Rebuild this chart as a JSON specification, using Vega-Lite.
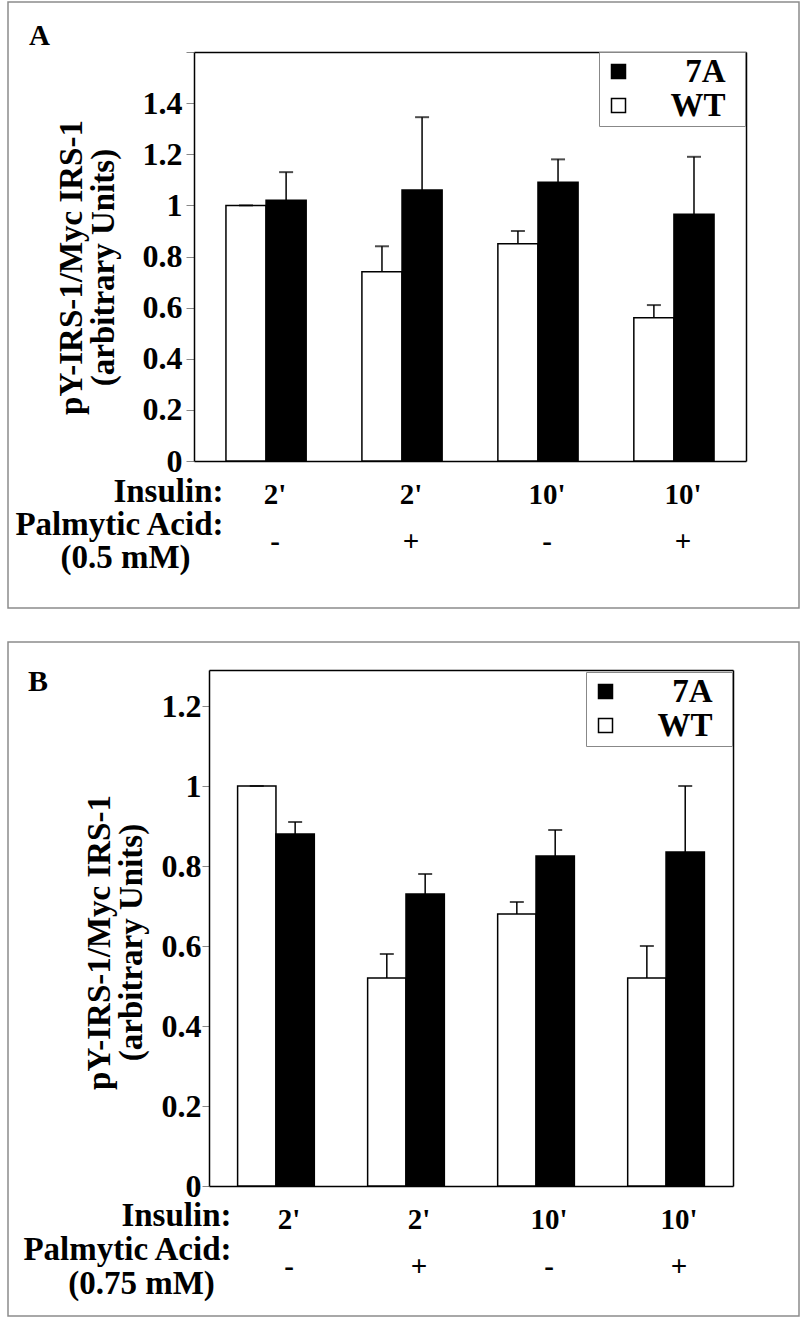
{
  "$schema": "https://vega.github.io/schema/vega-lite/v6.json",
  "background": "white",
  "padding": {"left": 7, "top": 1, "right": 1, "bottom": 0},
  "spacing": 32,
  "resolve": {"scale": {"x": "independent", "y": "independent", "color": "independent", "xOffset": "independent"}, "legend": {"color": "independent"}},
  "vconcat": [
    {
      "width": 791,
      "height": 606,
      "title": {"text": "A", "anchor": "start", "frame": "group", "dx": 21, "dy": 72, "offset": 0, "baseline": "alphabetic", "fontSize": 29},
      "data": {"values": [
        {"grp": "2'|-", "type": "WT", "value": 1.0, "hi": 1.0},
        {"grp": "2'|-", "type": "7A", "value": 1.02, "hi": 1.13},
        {"grp": "2'|+", "type": "WT", "value": 0.74, "hi": 0.84},
        {"grp": "2'|+", "type": "7A", "value": 1.06, "hi": 1.345},
        {"grp": "10'|-", "type": "WT", "value": 0.85, "hi": 0.9},
        {"grp": "10'|-", "type": "7A", "value": 1.09, "hi": 1.18},
        {"grp": "10'|+", "type": "WT", "value": 0.56, "hi": 0.61},
        {"grp": "10'|+", "type": "7A", "value": 0.965, "hi": 1.19}
      ]},
      "layer": [
        {
          "mark": {"type": "bar", "stroke": "black", "strokeWidth": 1.5},
          "encoding": {
            "x": {"field": "grp", "type": "nominal",
              "scale": {"domain": ["2'|-", "2'|+", "10'|-", "10'|+"], "range": [186, 738], "paddingInner": 0.41, "paddingOuter": 0.235},
              "axis": {"orient": "bottom", "offset": -147, "labelExpr": "split(datum.label, '|')", "labelAngle": 0, "ticks": false, "labelPadding": 42, "labelBaseline": "alphabetic", "labelLineHeight": 47, "labelFontSize": 29, "labelOffset": 9, "labelOverlap": false, "labelBound": false, "domainColor": "black", "domainWidth": 1.5,
                "title": ["Insulin:", "Palmytic Acid:"], "titleX": 215, "titleY": 40, "titleAlign": "right", "titleBaseline": "alphabetic", "titleAngle": 0, "titleLineHeight": 33, "titleFontSize": 33}},
            "xOffset": {"field": "type", "type": "nominal", "scale": {"domain": ["WT", "7A"], "paddingInner": 0, "paddingOuter": 0}},
            "y": {"field": "value", "type": "quantitative",
              "scale": {"domain": [0, 1.6], "range": [459, 50], "nice": false, "zero": true},
              "axis": {"orient": "left", "offset": -186, "values": [0, 0.2, 0.4, 0.6, 0.8, 1, 1.2, 1.4, 1.6], "format": ".1~f", "labelExpr": "datum.value > 1.5 ? '' : datum.label", "tickSize": 8, "tickColor": "#888888", "tickWidth": 1, "labelPadding": 4, "labelFontSize": 32, "labelBaseline": "middle", "domainColor": "black", "domainWidth": 1.5,
                "title": ["pY-IRS-1/Myc IRS-1", "(arbitrary Units)"], "titleFontSize": 33, "titleLineHeight": 32, "titleX": -113, "titleY": 265, "titleAngle": -90, "titleAlign": "center", "titleBaseline": "alphabetic"}},
            "color": {"field": "type", "type": "nominal",
              "scale": {"domain": ["7A", "WT"], "range": ["black", "white"]},
              "legend": {"orient": "none", "legendX": 591, "legendY": 50, "title": null, "symbolType": "square", "symbolSize": 196, "symbolStrokeColor": "black", "symbolStrokeWidth": 1.5, "symbolOpacity": 1, "labelFont": "Liberation Serif", "labelFontWeight": "bold", "labelFontSize": 33, "labelColor": "black", "labelAlign": "right", "labelOffset": 107, "labelExpr": "datum.label + '\u00a0\u00a0\u200b'", "labelLimit": 400, "padding": 3, "rowPadding": 0, "strokeColor": "#888888", "fillColor": "white"}}
          }
        },
        {
          "mark": {"type": "rule", "color": "black", "strokeWidth": 1.5},
          "encoding": {
            "x": {"field": "grp", "type": "nominal",
              "axis": {"orient": "top", "offset": -50, "labels": false, "ticks": false, "title": null, "domainColor": "black", "domainWidth": 1.5}},
            "xOffset": {"field": "type", "type": "nominal"},
            "y": {"field": "value", "type": "quantitative",
              "axis": {"orient": "right", "offset": -53, "labels": false, "ticks": false, "title": null, "domainColor": "black", "domainWidth": 1.5}},
            "y2": {"field": "hi"}
          }
        },
        {
          "mark": {"type": "tick", "color": "black", "size": 14, "thickness": 2, "orient": "horizontal"},
          "encoding": {
            "x": {"field": "grp", "type": "nominal",
              "axis": {"orient": "bottom", "offset": -147, "labels": false, "ticks": false, "domain": false, "title": "(0.5 mM)", "titleX": 117, "titleY": 106, "titleAlign": "center", "titleBaseline": "alphabetic", "titleAngle": 0, "titleFontSize": 33}},
            "xOffset": {"field": "type", "type": "nominal"},
            "y": {"field": "hi", "type": "quantitative", "axis": null}
          }
        }
      ],
      "resolve": {"axis": {"x": "independent", "y": "independent"}}
    },
    {
      "width": 791,
      "height": 674,
      "title": {"text": "B", "anchor": "start", "frame": "group", "dx": 20, "dy": 79, "offset": 0, "baseline": "alphabetic", "fontSize": 30},
      "data": {"values": [
        {"grp": "2'|-", "type": "WT", "value": 1.0, "hi": 1.0},
        {"grp": "2'|-", "type": "7A", "value": 0.88, "hi": 0.91},
        {"grp": "2'|+", "type": "WT", "value": 0.52, "hi": 0.58},
        {"grp": "2'|+", "type": "7A", "value": 0.73, "hi": 0.78},
        {"grp": "10'|-", "type": "WT", "value": 0.68, "hi": 0.71},
        {"grp": "10'|-", "type": "7A", "value": 0.825, "hi": 0.89},
        {"grp": "10'|+", "type": "WT", "value": 0.52, "hi": 0.6},
        {"grp": "10'|+", "type": "7A", "value": 0.835, "hi": 1.0}
      ]},
      "layer": [
        {
          "mark": {"type": "bar", "stroke": "black", "strokeWidth": 1.5},
          "encoding": {
            "x": {"field": "grp", "type": "nominal",
              "scale": {"domain": ["2'|-", "2'|+", "10'|-", "10'|+"], "range": [201, 725], "paddingInner": 0.41, "paddingOuter": 0.22},
              "axis": {"orient": "bottom", "offset": -130, "labelExpr": "split(datum.label, '|')", "labelAngle": 0, "ticks": false, "labelPadding": 42, "labelBaseline": "alphabetic", "labelLineHeight": 47, "labelFontSize": 29, "labelOffset": 13, "labelOverlap": false, "labelBound": false, "domainColor": "black", "domainWidth": 1.5,
                "title": ["Insulin:", "Palmytic Acid:"], "titleX": 223, "titleY": 39, "titleAlign": "right", "titleBaseline": "alphabetic", "titleAngle": 0, "titleLineHeight": 34, "titleFontSize": 33}},
            "xOffset": {"field": "type", "type": "nominal", "scale": {"domain": ["WT", "7A"], "paddingInner": 0, "paddingOuter": 0}},
            "y": {"field": "value", "type": "quantitative",
              "scale": {"domain": [0, 1.29], "range": [544, 28], "nice": false, "zero": true},
              "axis": {"orient": "left", "offset": -201, "values": [0, 0.2, 0.4, 0.6, 0.8, 1, 1.2], "format": ".1~f", "tickSize": 7, "tickColor": "#888888", "tickWidth": 1, "labelPadding": 1, "labelFontSize": 32, "labelBaseline": "middle", "domainColor": "black", "domainWidth": 1.5,
                "title": ["pY-IRS-1/Myc IRS-1", "(arbitrary Units)"], "titleFontSize": 33, "titleLineHeight": 32, "titleX": -100, "titleY": 300, "titleAngle": -90, "titleAlign": "center", "titleBaseline": "alphabetic"}},
            "color": {"field": "type", "type": "nominal",
              "scale": {"domain": ["7A", "WT"], "range": ["black", "white"]},
              "legend": {"orient": "none", "legendX": 578, "legendY": 30, "title": null, "symbolType": "square", "symbolSize": 196, "symbolStrokeColor": "black", "symbolStrokeWidth": 1.5, "symbolOpacity": 1, "labelFont": "Liberation Serif", "labelFontWeight": "bold", "labelFontSize": 33, "labelColor": "black", "labelAlign": "right", "labelOffset": 107, "labelExpr": "datum.label + '\u00a0\u00a0\u200b'", "labelLimit": 400, "padding": 3, "rowPadding": 0, "strokeColor": "#888888", "fillColor": "white"}}
          }
        },
        {
          "mark": {"type": "rule", "color": "black", "strokeWidth": 1.5},
          "encoding": {
            "x": {"field": "grp", "type": "nominal",
              "axis": {"orient": "top", "offset": -28, "labels": false, "ticks": false, "title": null, "domainColor": "black", "domainWidth": 1.5}},
            "xOffset": {"field": "type", "type": "nominal"},
            "y": {"field": "value", "type": "quantitative",
              "axis": {"orient": "right", "offset": -66, "labels": false, "ticks": false, "title": null, "domainColor": "black", "domainWidth": 1.5}},
            "y2": {"field": "hi"}
          }
        },
        {
          "mark": {"type": "tick", "color": "black", "size": 14, "thickness": 2, "orient": "horizontal"},
          "encoding": {
            "x": {"field": "grp", "type": "nominal",
              "axis": {"orient": "bottom", "offset": -130, "labels": false, "ticks": false, "domain": false, "title": "(0.75 mM)", "titleX": 133, "titleY": 107, "titleAlign": "center", "titleBaseline": "alphabetic", "titleAngle": 0, "titleFontSize": 33}},
            "xOffset": {"field": "type", "type": "nominal"},
            "y": {"field": "hi", "type": "quantitative", "axis": null}
          }
        }
      ],
      "resolve": {"axis": {"x": "independent", "y": "independent"}}
    }
  ],
  "config": {
    "font": "Liberation Serif",
    "view": {"stroke": "#8c8c8c", "strokeWidth": 1.5},
    "axis": {"labelFont": "Liberation Serif", "labelFontWeight": "bold", "labelColor": "black", "titleFont": "Liberation Serif", "titleFontWeight": "bold", "titleColor": "black", "grid": false},
    "title": {"font": "Liberation Serif", "fontWeight": "bold", "color": "black"}
  }
}
